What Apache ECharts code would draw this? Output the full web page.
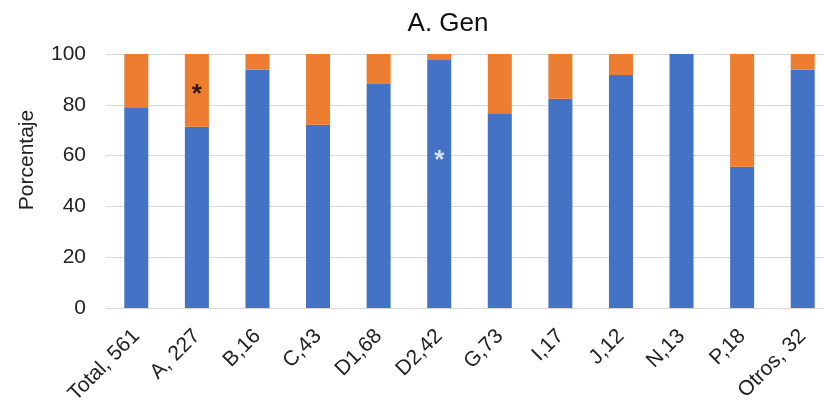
<!DOCTYPE html>
<html>
<head>
<meta charset="utf-8">
<script src="https://cdn.jsdelivr.net/npm/echarts@6/dist/echarts.min.js"></script>
<style>
  html, body { margin: 0; padding: 0; background: #fff; overflow: hidden; }
  #chart { width: 840px; height: 408px; }
</style>
</head>
<body>
<div id="chart"></div>
<script>
// Groups with sample size
const categories = ['Total, 561', 'A, 227', 'B,16', 'C,43', 'D1,68', 'D2,42', 'G,73', 'I,17', 'J,12', 'N,13', 'P,18', 'Otros, 32'];
// Percentage per group (stacked to 100)
const bluePct   = [79.0, 71.4, 93.8, 72.1, 88.2, 97.6, 76.7, 82.4, 91.7, 100, 55.6, 93.8];
const orangePct = [21.0, 28.6, 6.2, 27.9, 11.8, 2.4, 23.3, 17.6, 8.3, 0, 44.4, 6.2];
const yTicks = [0, 20, 40, 60, 80, 100];
// Significance markers: [category index, y position, colour]
const markIdx    = [1, 5];
const markY      = [84, 58];
const markColors = ['#000000', '#ffffff'];

const FONT = 'Liberation Sans, Arial, sans-serif';
const chart = echarts.init(document.getElementById('chart'), null, { renderer: 'canvas' });

chart.setOption({
  animation: false,
  backgroundColor: '#ffffff',
  title: {
    text: 'A. Gen',
    left: 443,
    top: 6,
    textAlign: 'center',
    textStyle: { fontFamily: FONT, fontSize: 26, fontWeight: 'normal', color: '#111' }
  },
  grid: { left: 106, top: 54, width: 727, height: 254, containLabel: false },
  xAxis: {
    type: 'category',
    data: categories,
    axisLine: { show: true, lineStyle: { color: '#d9d9d9', width: 1 } },
    axisTick: { show: false },
    axisLabel: {
      interval: 0,
      rotate: 45,
      margin: 25,
      fontFamily: FONT,
      fontSize: 21,
      color: '#222'
    }
  },
  yAxis: {
    type: 'value',
    min: yTicks[0],
    max: yTicks[yTicks.length - 1],
    interval: yTicks[1] - yTicks[0],
    name: 'Porcentaje',
    nameLocation: 'middle',
    nameGap: 68,
    nameTextStyle: { fontFamily: FONT, fontSize: 21, color: '#222', padding: [0, 0, 0, 42] },
    axisLine: { show: false },
    axisTick: { show: false },
    splitLine: { lineStyle: { color: '#d9d9d9', width: 1 } },
    axisLabel: { margin: 20, fontFamily: FONT, fontSize: 21, color: '#222' }
  },
  series: [
    {
      type: 'bar',
      stack: 'pct',
      data: bluePct,
      barWidth: 24,
      itemStyle: { color: '#4472C4' }
    },
    {
      type: 'bar',
      stack: 'pct',
      data: orangePct,
      barWidth: 24,
      itemStyle: { color: '#ED7D31' }
    },
    {
      type: 'scatter',
      symbolSize: 0,
      silent: true,
      z: 5,
      data: markIdx.map((i, k) => ({
        value: [i, markY[k]],
        label: {
          show: true,
          formatter: '*',
          position: 'inside',
          fontFamily: FONT,
          fontSize: 26,
          fontWeight: 'bold',
          color: markColors[k]
        }
      }))
    }
  ]
});
</script>
</body>
</html>
